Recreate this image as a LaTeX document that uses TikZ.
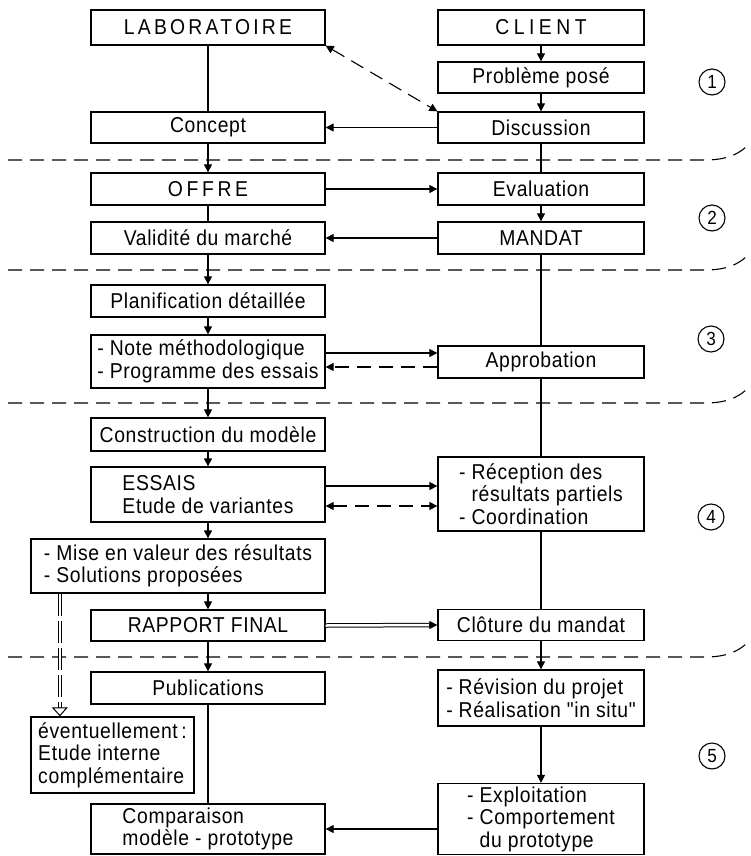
\documentclass[tikz,border=0pt]{standalone}
\usepackage{fontspec}
\setmainfont{Liberation Sans}[FakeStretch=0.9, LetterSpace=3, Ligatures=TeXOff]
\usetikzlibrary{arrows.meta}
\begin{document}
\begin{tikzpicture}[x=1pt,y=-1pt,
  box/.style={draw, line width=1.3pt, inner sep=3pt, font=\fontsize{21.5}{22.5}\selectfont, align=center},
  lw/.style={minimum width=234pt},
  rw/.style={minimum width=206pt},
  link/.style={line width=1.1pt},
  arr/.style={link, -{Triangle[length=8pt,width=8pt]}},
  sep/.style={line width=1.1pt, dash pattern=on 14pt off 8pt},
  num/.style={draw, circle, line width=1.1pt, minimum size=26pt, inner sep=0pt, font=\fontsize{19}{19}\selectfont}
]
\useasboundingbox (0,0) rectangle (750,856);

% boxes, left column
\node[box,lw,minimum height=35pt] (lab) at (208,27.5) {\addfontfeature{LetterSpace=15}LABORATOIRE};
\node[box,lw,minimum height=31pt] (concept) at (208,127.5) {Concept};
\node[box,lw,minimum height=32pt] (offre) at (208,189) {\addfontfeature{LetterSpace=17}OFFRE};
\node[box,lw,minimum height=32pt] (valid) at (208,238) {Validité du marché};
\node[box,lw,minimum height=32pt] (plan) at (208,301) {Planification détaillée};
\node[box,lw,minimum height=53pt,align=left] (note) at (208,361.5) {- Note méthodologique\\- Programme des essais};
\node[box,lw,minimum height=33pt] (constr) at (208,434.5) {Construction du modèle};
\node[box,lw,minimum height=55pt,align=left] (essais) at (208,494.5) {ESSAIS\\Etude de variantes};
\node[box,minimum width=294pt,minimum height=54pt,align=left] (mise) at (178,566) {- Mise en valeur des résultats\\- Solutions proposées};
\node[box,lw,minimum height=31pt] (rapport) at (208,625.5) {RAPPORT FINAL};
\node[box,lw,minimum height=32pt] (pub) at (208,688) {Publications};
\node[box,minimum width=163pt,minimum height=76pt,align=left] (event) at (112.5,755) {éventuellement\,:\\Etude interne\\complémentaire};
\node[box,lw,minimum height=50pt,align=left] (compar) at (208,829) {Comparaison\\modèle - prototype};

% boxes, right column
\node[box,rw,minimum height=35pt] (cli) at (541,27.5) {\addfontfeature{LetterSpace=21}CLIENT};
\node[box,rw,minimum height=31pt] (prob) at (541,77.5) {Problème posé};
\node[box,rw,minimum height=31pt] (disc) at (541,127.5) {Discussion};
\node[box,rw,minimum height=32pt] (eval) at (541,189) {Evaluation};
\node[box,rw,minimum height=32pt] (mandat) at (541,238) {MANDAT};
\node[box,rw,minimum height=32pt] (appro) at (541,362) {Approbation};
\node[box,rw,minimum height=74pt,align=left] (recep) at (541,494) {- Réception des\\\phantom{- }résultats partiels\\- Coordination};
\node[box,rw,minimum height=31pt] (clot) at (541,625) {Clôture du mandat};
\node[box,rw,minimum height=56pt,align=left] (revis) at (541,698) {- Révision du projet\\- Réalisation "in situ"};
\node[box,rw,minimum height=70pt,align=left] (exploit) at (541,819) {- Exploitation\\- Comportement\\\phantom{- }du prototype};

% phase numbers
\node[num] (n1) at (712,82) {1};
\node[num] (n2) at (712,218) {2};
\node[num] (n3) at (711,339) {3};
\node[num] (n4) at (711,517) {4};
\node[num] (n5) at (712,756) {5};

% phase separators
\draw[sep] (8,160) -- (705,160) .. controls (725,160) and (737,155) .. (746,147);
\draw[sep] (8,270) -- (705,270) .. controls (725,270) and (737,265) .. (746,257);
\draw[sep] (8,403) -- (705,403) .. controls (725,403) and (737,398) .. (746,390);
\draw[sep] (8,657) -- (705,657) .. controls (725,657) and (737,652) .. (746,644);

% plain vertical links
\draw[link] (lab.south) -- (concept.north);
\draw[link] (disc.south) -- (eval.north);
\draw[link] (offre.south) -- (valid.north);
\draw[link] (mandat.south) -- (appro.north);
\draw[link] (appro.south) -- (recep.north);
\draw[link] (recep.south) -- (clot.north);
\draw[link] (pub.south) -- (compar.north);

% arrowed vertical links
\draw[arr] (cli.south) -- (prob.north);
\draw[arr] (prob.south) -- (disc.north);
\draw[arr] (concept.south) -- (offre.north);
\draw[arr] (eval.south) -- (mandat.north);
\draw[arr] (valid.south) -- (plan.north);
\draw[arr] (plan.south) -- (note.north);
\draw[arr] (note.south) -- (constr.north);
\draw[arr] (constr.south) -- (essais.north);
\draw[arr] (essais.south) -- (essais.south |- mise.north);
\draw[arr] (rapport.north |- mise.south) -- (rapport.north);
\draw[arr] (rapport.south) -- (pub.north);
\draw[arr] (clot.south) -- (revis.north);
\draw[arr] (revis.south) -- (exploit.north);

% horizontal links
\draw[arr] (disc.west) -- (concept.east);
\draw[arr] (offre.east) -- (eval.west);
\draw[arr] (mandat.west) -- (valid.east);
\draw[arr] ([yshift=8.5pt]note.east) -- ([yshift=8.5pt]note.east -| appro.west);
\draw[arr, dash pattern=on 14pt off 8pt] ([yshift=-5.5pt]note.east -| appro.west) -- ([yshift=-5.5pt]note.east);
\draw[arr] ([yshift=8.5pt]essais.east) -- ([yshift=8.5pt]essais.east -| recep.west);
\draw[link, dash pattern=on 14pt off 8pt, {Triangle[length=8pt,width=8pt]}-{Triangle[length=8pt,width=8pt]}] ([yshift=-11.5pt]essais.east) -- ([yshift=-11.5pt]essais.east -| recep.west);
\draw[arr] ([yshift=-10pt]exploit.west) -- ([yshift=-10pt]exploit.west -| compar.east);

% dashed diagonal
\draw[link, dash pattern=on 14pt off 8pt, {Triangle[length=8pt,width=8pt]}-{Triangle[length=8pt,width=8pt]}] (lab.south east) -- (disc.north west);

% double arrow RAPPORT FINAL -> Cloture
\draw[line width=1pt, double, double distance=2.5pt, shorten >=7pt] (rapport.east) -- (clot.west);
\draw[arr] ([xshift=-8pt]clot.west) -- (clot.west);

% double dashed link to "eventuellement"
\coordinate (m1) at ([xshift=29.5pt]mise.south west);
\coordinate (e1) at (m1 |- event.north);
\draw[line width=1pt, double, double distance=2.5pt, dash pattern=on 22pt off 5pt, shorten >=8pt] (m1) -- (e1);
\draw[line width=1pt, -{Triangle[open, fill=white, length=9pt, width=16pt]}] ([yshift=9pt]e1) -- (e1);
\end{tikzpicture}
\end{document}
